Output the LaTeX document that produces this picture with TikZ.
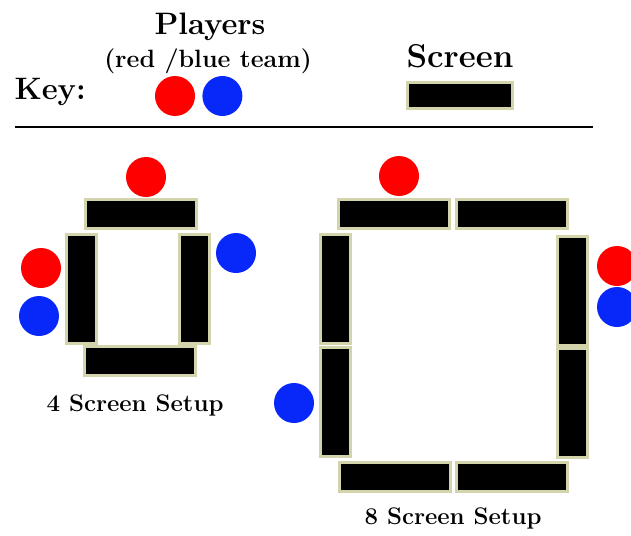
\documentclass[tikz,border=0pt]{standalone}
\usetikzlibrary{positioning}

\definecolor{glow}{RGB}{212,212,172}
\definecolor{teamred}{RGB}{255,0,0}
\definecolor{teamblue}{RGB}{8,40,250}

\begin{document}
\begin{tikzpicture}[x=1pt,y=-1pt]

	% Stile
	\tikzset{
		every node/.style={font=\bfseries},
		headfont/.style={font=\bfseries\fontsize{31pt}{34pt}\selectfont},
		subfont/.style={font=\bfseries\fontsize{25pt}{28pt}\selectfont},
		setupfont/.style={font=\bfseries\fontsize{24pt}{27pt}\selectfont},
		player/.style={circle, inner sep=0pt, minimum size=40},
		redp/.style={player, fill=teamred},
		bluep/.style={player, fill=teamblue},
		scrh/.style={rectangle, inner sep=0pt, fill=black, draw=glow, line width=3, minimum width=111, minimum height=29},
		scrv/.style={scrh, minimum width=30, minimum height=109}
	}
	\clip (0,0) rectangle (631,535);

	% Legende
	\node[headfont] (players) at (210,27) {Players};
	\node[subfont] (team) at (208,61) {(red /blue team)};
	\node[headfont, anchor=west] (key) at (11,92) {Key:};
	\node[headfont, font=\bfseries\fontsize{33pt}{36pt}\selectfont] (screenlbl) at (460,56) {Screen};
	\node[redp] (keyred) at (175,96) {};
	\node[bluep, right=7 of keyred] (keyblue) {};
	\node[scrh, minimum width=105, minimum height=26] (keyscr) at (460,95) {};
	\coordinate (ruleL) at (15,127);
	\coordinate (ruleR) at (593,127);
	\draw[line width=2] (ruleL) -- (ruleR);

	% 4 Screen Setup
	\node[scrh] (fourT) at (141,214) {};
	\node[scrv] (fourL) at (81,289) {};
	\node[scrv] (fourR) at (194,289) {};
	\node[scrh] (fourB) at (140,361) {};
	\node[redp] (fourRedT) at (146,177) {};
	\node[redp] (fourRedL) at (41,268) {};
	\node[bluep] (fourBlueL) at (39,316) {};
	\node[bluep] (fourBlueR) at (236,253) {};
	\node[setupfont] (fourLbl) at (135,405) {4 Screen Setup};

	% 8 Screen Setup
	\node[scrh] (eightTL) at (394,214) {};
	\node[scrh] (eightTR) at (512,214) {};
	\node[scrv] (eightLU) at (335,289) {};
	\node[scrv] (eightLD) at (335,402) {};
	\node[scrv] (eightRU) at (572,291) {};
	\node[scrv] (eightRD) at (572,403) {};
	\node[scrh] (eightBL) at (395,477) {};
	\node[scrh] (eightBR) at (512,477) {};
	\node[redp] (eightRedT) at (399,176) {};
	\node[redp] (eightRedR) at (617,266) {};
	\node[bluep] (eightBlueR) at (617,307) {};
	\node[bluep] (eightBlueL) at (294,403) {};
	\node[setupfont] (eightLbl) at (453,518) {8 Screen Setup};

\end{tikzpicture}
\end{document}
